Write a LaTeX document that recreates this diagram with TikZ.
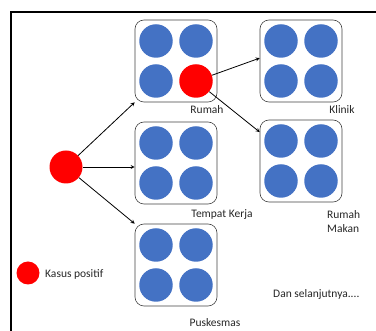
\documentclass[tikz,border=0pt]{standalone}
\usepackage{fontspec}
\setmainfont{Carlito}
\usetikzlibrary{calc}
\definecolor{dotblue}{HTML}{4472C4}
\definecolor{dotred}{HTML}{FF0000}
\tikzset{
  place/.style={draw=black!75,line width=0.6pt,rounded corners=9pt,
    minimum width=82pt,minimum height=82pt},
  person/.style={circle,fill=dotblue,minimum size=33.5pt,inner sep=0pt},
  infected/.style={person,fill=dotred},
  lbl/.style={font=\fontsize{11.5}{14}\selectfont,text=black!85,inner sep=0pt},
  link/.style={->,>=stealth,line width=0.8pt}
}
\begin{document}
\begin{tikzpicture}[x=1pt,y=-1pt]
  \useasboundingbox (0,0) rectangle (376,331);
  \draw[line width=2pt] (376,12) -- (11,12) -- (11,331);
  % places with four people each, \h = the infected one
  \foreach \n/\x/\y/\h in {rumah/176/61/4,kerja/176/163/0,pusk/176/265/0,
                           klinik/301/61/0,makan/301/161/0}{
    \node[place] (\n) at (\x,\y) {};
    \foreach \i/\dx/\dy in {1/-20/-20,2/20/-20,3/-20/20,4/20/20}{
      \ifnum\i=\h \def\s{infected}\else\def\s{person}\fi
      \node[\s] (\n\i) at ($(\n)+(\dx,\dy)$) {};}
  }
  \node[lbl] (lrumah) at (207,110) {Rumah};
  \node[lbl] (lklinik) at (342,110) {Klinik};
  \node[lbl] (lkerja) at (222,215) {Tempat Kerja};
  \node[lbl,align=left,anchor=north west] (lmakan) at (327,210) {Rumah\\Makan};
  \node[lbl] (lpusk) at (215,323) {Puskesmas};
  % source case and legend
  \node[infected,minimum size=33pt] (source) at (66,167) {};
  \node[infected,minimum size=23pt] (key) at (28,273) {};
  \node[lbl,anchor=west] (lkey) at (45,274) {Kasus positif};
  \node[lbl,anchor=west] (lnext) at (273,294) {Dan selanjutnya....};
  \draw[link] (source) -- (rumah.south west);
  \draw[link] (source) -- (source -| kerja.west);
  \draw[link] (source) -- (pusk.north west);
  \draw[link] (rumah4) -- (klinik.176);
  \draw[link] (rumah4) -- (makan.145);
\end{tikzpicture}
\end{document}
